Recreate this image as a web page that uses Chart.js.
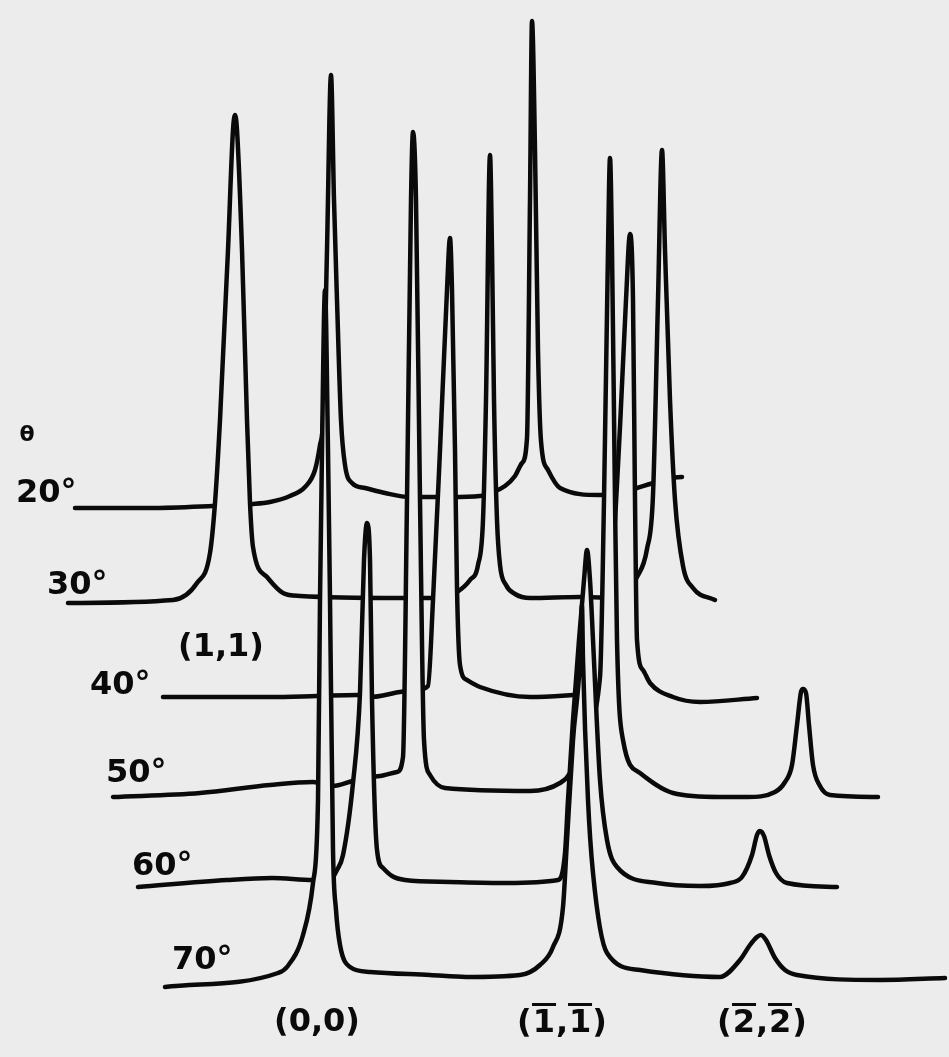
<!DOCTYPE html>
<html lang="en">
<head>
    <meta charset="UTF-8">
    <title>Scans at several angles</title>
    <script src="https://cdn.jsdelivr.net/npm/chart.js"></script>
    <style>
        body {
            margin: 0;
            background-color: #ececec;
            overflow: hidden;
        }
        .wrap {
            position: relative;
            width: 949px;
            height: 1057px;
        }
        #chart { display: block; }
        .tag {
            position: absolute;
            font-family: "DejaVu Sans", sans-serif;
            font-weight: bold;
            font-size: 32px;
            line-height: 32px;
            color: #0a0a0a;
            white-space: nowrap;
        }
        .tag.angle { transform: translateY(-50%); }
        .tag.peak { transform: translate(-50%, -50%); }
        .tag.theta { font-size: 22px; transform: translate(-50%, -50%); }
        .bar {
            display: inline-block;
            line-height: 30px;
            border-top: 3px solid #0a0a0a;
            padding: 0 1px;
        }
    </style>
</head>
<body>

<div class="wrap" id="wrap">
    <canvas id="chart" width="949" height="1057"></canvas>
</div>

<script>
    // scan angles and the height of each scan's baseline (waterfall offset)
    const thetaLabels = ['20°', '30°', '40°', '50°', '60°', '70°'];
    const baseLevels = [549, 454, 360, 260, 172, 70];
    // peak indices; a minus sign means the index is written with a bar over it
    const peakLabels = [['1', '1'], ['0', '0'], ['-1', '-1'], ['-2', '-2']];

    // position along the scan / intensity above the baseline
    const pos20 = [75,150,213,252,270,290,305,315,320,323,327,331,334,337,341,345,352,365,385,410,450,480,493,505,515,522,527,530,532,535,538,541,548,560,600,637,650,670,682];
    const int20 = [0,0,2,4,6,12,21,38,63,88,258,433,308,208,88,43,25,20,15,11,11,12,16,22,32,45,70,308,487,358,158,67,38,20,13,20,24,30,31];

    const pos30 = [68,173,197,210,215,220,228,233,235,237,242,247,250,253,267,283,300,400,440,457,470,478,483,486,490,492,494,497,500,506,515,530,580,620,637,647,653,658,662,665,670,675,683,693,715];
    const int30 = [0,3,20,50,100,183,353,473,488,473,353,183,100,56,26,10,7,5,5,11,23,38,83,203,448,353,203,83,38,18,9,5,6,5,26,54,108,303,453,353,203,103,37,15,3];

    const pos40 = [163,270,317,357,370,400,417,428,433,440,447,450,452,455,457,460,467,480,530,573,590,600,610,620,626,630,633,635,637,643,650,673,700,757];
    const int40 = [0,0,1,2,0,5,7,11,97,247,407,459,407,247,109,32,17,10,0,2,4,12,97,270,397,463,397,197,57,27,14,0,-5,-1];

    const pos50 = [113,200,270,313,333,353,380,397,403,407,411,413,416,420,424,430,445,530,560,570,585,600,604,608,610,612,615,617,623,640,673,720,747,775,785,792,797,801,803,806,809,813,820,830,878];
    const int50 = [0,4,12,15,11,16,21,25,40,297,597,665,597,297,57,22,9,6,14,24,67,120,297,547,639,547,297,157,57,24,4,0,0,5,15,32,72,105,108,104,72,32,11,2,0];

    const pos60 = [138,227,272,313,330,337,343,353,360,364,367,370,372,377,383,392,405,450,507,558,565,568,573,579,584,587,590,593,600,607,617,657,700,730,742,752,757,760,764,769,776,787,837];
    const int60 = [-2,5,7,5,5,15,30,102,192,325,362,325,185,35,17,9,5,3,2,5,32,85,165,245,305,335,305,245,105,45,18,2,-1,2,8,30,50,54,49,30,12,2,-2];

    const pos70 = [165,278,287,303,313,318,320,322,325,328,330,333,336,340,350,370,430,466,520,540,553,563,567,573,580,582,583,588,593,607,640,720,740,750,757,761,766,775,785,797,880,945];
    const int70 = [0,14,20,52,104,187,387,537,697,537,387,137,77,42,20,15,12,10,12,22,40,80,147,247,327,382,327,187,114,34,17,10,27,42,50,52,47,29,17,12,7,9];

    const positions = [pos20, pos30, pos40, pos50, pos60, pos70];
    const intensities = [int20, int30, int40, int50, int60, int70];

    const paper = '#ececec';
    const ink = '#0a0a0a';

    const datasets = thetaLabels.map((label, i) => ({
        label: label,
        data: positions[i].map((x, k) => ({ x: x, y: baseLevels[i] + intensities[i][k] })),
        borderColor: ink,
        borderWidth: 4.5,
        borderJoinStyle: 'round',
        borderCapStyle: 'round',
        backgroundColor: paper,
        fill: 'start',          // front scans hide the ones behind
        pointRadius: 0,
        cubicInterpolationMode: 'monotone',
        order: thetaLabels.length - 1 - i
    }));

    new Chart(document.getElementById('chart'), {
        type: 'line',
        data: { datasets: datasets },
        options: {
            responsive: false,
            animation: false,
            devicePixelRatio: 1,
            layout: { padding: 0 },
            plugins: {
                legend: { display: false },
                tooltip: { enabled: false },
                filler: { propagate: false }
            },
            scales: {
                x: { type: 'linear', display: false, min: 0, max: 949 },
                y: { display: false, min: 0, max: 1057 }
            }
        }
    });

    // hand lettering: angles on the left, peak indices under the front scan
    const wrap = document.getElementById('wrap');
    function addTag(cls, html, left, top) {
        const d = document.createElement('div');
        d.className = 'tag ' + cls;
        d.innerHTML = html;
        d.style.left = left + 'px';
        d.style.top = top + 'px';
        wrap.appendChild(d);
    }

    addTag('theta', 'θ', 27, 434);
    const angleSpots = [[16, 491], [47, 583], [90, 683], [106, 771], [132, 864], [172, 958]];
    thetaLabels.forEach((t, i) => addTag('angle', t, angleSpots[i][0], angleSpots[i][1]));

    function indexHtml(v) {
        return v.startsWith('-') ? '<span class="bar">' + v.slice(1) + '</span>' : v;
    }
    const peakSpots = [[221, 645], [317, 1020], [562, 1020], [762, 1020]];
    peakLabels.forEach((p, i) => {
        addTag('peak', '(' + indexHtml(p[0]) + ',' + indexHtml(p[1]) + ')', peakSpots[i][0], peakSpots[i][1]);
    });
</script>

</body>
</html>
